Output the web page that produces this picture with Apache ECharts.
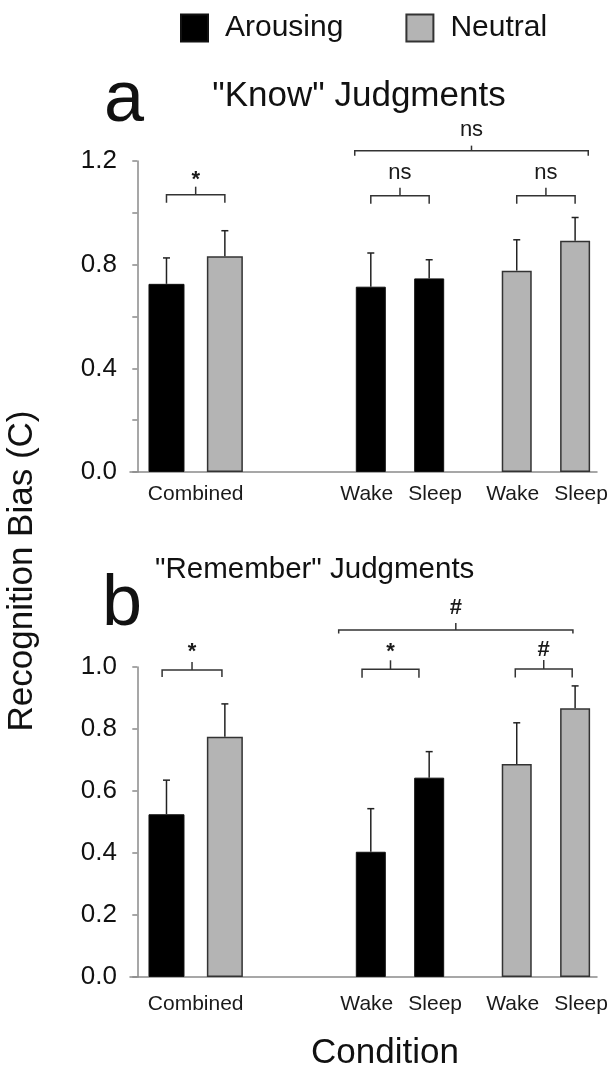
<!DOCTYPE html>
<html><head><meta charset="utf-8">
<script src="https://cdn.jsdelivr.net/npm/echarts@6/dist/echarts.min.js"></script>
<style>html,body{margin:0;padding:0;background:#fff}#c{width:611px;height:1070px}</style>
</head><body><div id="c"></div>
<script>
// ---------------- data ----------------
const groupLabels = ['Combined', 'Wake', 'Sleep', 'Wake', 'Sleep'];
const seriesNames = ['Arousing', 'Neutral'];
// each array: [Combined, Wake, Sleep]
const knowArousing = [0.726, 0.715, 0.747];
const knowArousingErr = [0.100, 0.130, 0.072];
const knowNeutral = [0.832, 0.777, 0.892];
const knowNeutralErr = [0.099, 0.119, 0.090];
const rememberArousing = [0.525, 0.404, 0.643];
const rememberArousingErr = [0.110, 0.139, 0.084];
const rememberNeutral = [0.775, 0.687, 0.867];
const rememberNeutralErr = [0.106, 0.133, 0.072];
// significance: [combined, arousing wake-sleep, neutral wake-sleep, overall split]
const knowSig = ['*', 'ns', 'ns', 'ns'];
const rememberSig = ['*', '*', '#', '#'];
const knowTicks = [0.0, 0.4, 0.8, 1.2];
const rememberTicks = [0.0, 0.2, 0.4, 0.6, 0.8, 1.0];
const panelLetters = ['a', 'b'];
const panelTitles = ['"Know" Judgments', '"Remember" Judgments'];
const yTitle = 'Recognition Bias (C)';
const xTitle = 'Condition';

// ---------------- layout ----------------
const FONT = "'Liberation Sans', Arial, Helvetica, sans-serif";
const SLOTS = 32;
const slotCombined = [2, 6];          // arousing, neutral
const slotArousingSplit = [16, 20];   // wake, sleep
const slotNeutralSplit = [26, 30];    // wake, sleep
const slotLabels = [4, 16, 20, 26, 30];
const bracketLayouts = [
  [ {x1: 2, x2: 6, y: 1.07, leg: 8, tick: 8, gap: 12},
    {x1: 16, x2: 20, y: 1.066, leg: 8, tick: 8, gap: 13},
    {x1: 26, x2: 30, y: 1.066, leg: 8, tick: 8, gap: 13},
    {x1: 14.9, x2: 30.9, y: 1.24, leg: 5, tick: 5, gap: 14} ],
  [ {x1: 1.7, x2: 5.8, y: 0.99, leg: 7, tick: 8, gap: 15.5},
    {x1: 15.4, x2: 19.3, y: 0.9926, leg: 8.5, tick: 9, gap: 13.3},
    {x1: 25.9, x2: 29.8, y: 0.9935, leg: 8.5, tick: 9, gap: 10},
    {x1: 13.8, x2: 29.85, y: 1.119, leg: 3.5, tick: 7, gap: 15} ]
];
const glyphAdj = {'ns': -2, '*': 5, '#': 0};

const catLabels = new Array(SLOTS).fill('');
slotLabels.forEach((s, i) => { catLabels[s] = groupLabels[i]; });
function catData(pairs) {
  const d = new Array(SLOTS).fill('-');
  pairs.forEach(([s, v]) => { d[s] = v; });
  return d;
}

const panels = [
  {A: knowArousing, AE: knowArousingErr, N: knowNeutral, NE: knowNeutralErr, sig: knowSig, ticks: knowTicks, max: 1.2},
  {A: rememberArousing, AE: rememberArousingErr, N: rememberNeutral, NE: rememberNeutralErr, sig: rememberSig, ticks: rememberTicks, max: 1.0}
];

const grids = [
  {left: 130, top: 161, width: 467, height: 311},
  {left: 130, top: 667, width: 467, height: 310}
];
const xAxes = [], yAxes = [], series = [];
const blackStyle = {color: '#000', borderColor: '#111', borderWidth: 1};
const grayStyle = {color: '#b4b4b4', borderColor: '#333', borderWidth: 1.5};
const labelRich = {
  c: {fontSize: 21, color: '#1a1a1a', fontFamily: FONT},
  w: {fontSize: 21, color: '#1a1a1a', fontFamily: FONT, padding: [0, 8, 0, 0]},
  s: {fontSize: 21, color: '#1a1a1a', fontFamily: FONT, padding: [0, 0, 0, 12]}
};
const labelFmt = v => v === 'Wake' ? '{w|' + v + '}' : v === 'Sleep' ? '{s|' + v + '}' : (v ? '{c|' + v + '}' : '');

panels.forEach((p, g) => {
  xAxes.push({type: 'category', gridIndex: g, data: catLabels, boundaryGap: true,
    axisLine: {lineStyle: {color: '#8a8a8a', width: 1.5}}, axisTick: {show: false},
    axisLabel: {interval: 0, fontSize: 21, color: '#1a1a1a', fontFamily: FONT, margin: g ? 17 : 12,
      formatter: labelFmt, rich: labelRich}});
  xAxes.push({type: 'category', gridIndex: g, data: catLabels, boundaryGap: true, show: false});
  xAxes.push({type: 'value', gridIndex: g, min: -0.5, max: SLOTS - 0.5, show: false});
  yAxes.push({type: 'value', gridIndex: g, min: 0, max: p.max, interval: 0.2,
    axisLine: {show: true, lineStyle: {color: '#8a8a8a', width: 1.5}},
    axisTick: {show: true, length: 5, lineStyle: {color: '#8a8a8a', width: 1.5}},
    splitLine: {show: false},
    axisLabel: {fontSize: 26, color: '#111', fontFamily: FONT, margin: 13,
      formatter: v => p.ticks.some(t => Math.abs(t - v) < 1e-6) ? v.toFixed(1) : ''}});
  const xa = 3 * g;
  series.push({type: 'bar', name: seriesNames[0], xAxisIndex: xa, yAxisIndex: g, barWidth: 36, barGap: '-100%',
    data: catData([[slotCombined[0], p.A[0]]]), itemStyle: blackStyle, z: 2});
  series.push({type: 'bar', name: seriesNames[1], xAxisIndex: xa, yAxisIndex: g, barWidth: 36, barGap: '-100%',
    data: catData([[slotCombined[1], p.N[0]]]), itemStyle: grayStyle, z: 2});
  series.push({type: 'bar', name: seriesNames[0], xAxisIndex: xa + 1, yAxisIndex: g, barWidth: 30, barGap: '-100%',
    data: catData([[slotArousingSplit[0], p.A[1]], [slotArousingSplit[1], p.A[2]]]), itemStyle: blackStyle, z: 2});
  series.push({type: 'bar', name: seriesNames[1], xAxisIndex: xa + 1, yAxisIndex: g, barWidth: 30, barGap: '-100%',
    data: catData([[slotNeutralSplit[0], p.N[1]], [slotNeutralSplit[1], p.N[2]]]), itemStyle: grayStyle, z: 2});
  // error bars
  series.push({type: 'custom', xAxisIndex: xa, yAxisIndex: g, z: 5, silent: true,
    encode: {x: 0, y: 1},
    data: [
      [slotCombined[0], p.A[0], p.AE[0]], [slotCombined[1], p.N[0], p.NE[0]],
      [slotArousingSplit[0], p.A[1], p.AE[1]], [slotArousingSplit[1], p.A[2], p.AE[2]],
      [slotNeutralSplit[0], p.N[1], p.NE[1]], [slotNeutralSplit[1], p.N[2], p.NE[2]]
    ],
    renderItem: (params, api) => {
      const base = api.coord([api.value(0), api.value(1)]);
      const top = api.coord([api.value(0), api.value(1) + api.value(2)]);
      const st = {stroke: '#222', lineWidth: 1.5};
      return {type: 'group', children: [
        {type: 'line', shape: {x1: base[0], y1: base[1], x2: top[0], y2: top[1]}, style: st},
        {type: 'line', shape: {x1: top[0] - 3.5, y1: top[1], x2: top[0] + 3.5, y2: top[1]}, style: st}
      ]};
    }});
  // significance brackets
  const bl = bracketLayouts[g];
  series.push({type: 'custom', xAxisIndex: xa + 2, yAxisIndex: g, z: 5, silent: true, clip: false,
    encode: {x: [0, 1], y: 2},
    data: bl.map(b => [b.x1, b.x2, b.y]),
    renderItem: (params, api) => {
      const b = bl[params.dataIndex];
      const label = p.sig[params.dataIndex];
      const a1 = api.coord([api.value(0), api.value(2)]);
      const a2 = api.coord([api.value(1), api.value(2)]);
      const y = a1[1];
      const xm = (a1[0] + a2[0]) / 2;
      const st = {stroke: '#333', lineWidth: 1.5, fill: null};
      const tickTop = y - b.tick;
      return {type: 'group', children: [
        {type: 'polyline', shape: {points: [[a1[0], y + b.leg], [a1[0], y], [a2[0], y], [a2[0], y + b.leg]]}, style: st},
        {type: 'line', shape: {x1: xm, y1: y, x2: xm, y2: tickTop}, style: st},
        {type: 'text', x: xm, y: tickTop - b.gap + (glyphAdj[label] || 0),
          style: {text: label, fontSize: 22, fontFamily: FONT, fontWeight: label === 'ns' ? 'normal' : 'bold',
            fill: '#1a1a1a', align: 'center', verticalAlign: 'middle'}}
      ]};
    }});
});

const txt = (text, x, y, size, align, extra) => Object.assign({type: 'text', x, y, silent: true,
  style: {text, fontSize: size, fontFamily: FONT, fill: '#111', align: align || 'center', verticalAlign: 'middle'}}, extra || {});

const option = {
  animation: false,
  backgroundColor: '#fff',
  grid: grids,
  xAxis: xAxes,
  yAxis: yAxes,
  legend: {data: seriesNames, left: 180, top: 13, padding: 0, icon: 'rect', itemWidth: 27, itemHeight: 27, itemGap: 62,
    selectedMode: false,
    textStyle: {fontSize: 30, color: '#111', fontFamily: FONT, padding: [0, 0, 0, 12]}},
  graphic: [
    txt(panelLetters[0], 124, 101, 72),
    txt(panelLetters[1], 122, 605, 72),
    txt(panelTitles[0], 359, 96, 35),
    txt(panelTitles[1], 155, 570, 29.5, 'left'),
    txt(xTitle, 385, 1053, 35),
    txt(yTitle, 22, 571, 35, 'center', {rotation: Math.PI / 2})
  ],
  series
};
const chart = echarts.init(document.getElementById('c'), null, {renderer: 'canvas'});
chart.setOption(option);
</script></body></html>
